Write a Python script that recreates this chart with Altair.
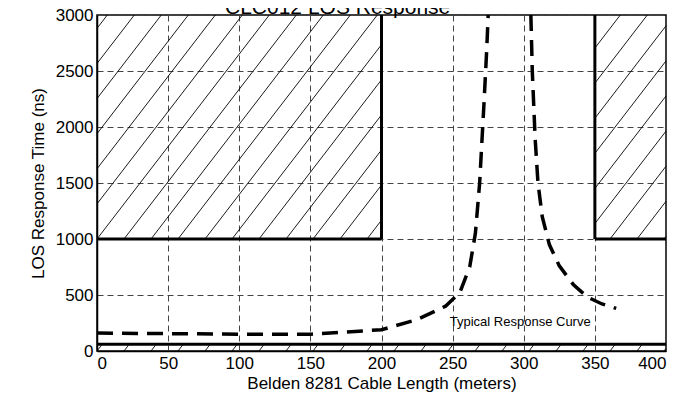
import numpy as np
import pandas as pd
import altair as alt

W, H = 569, 336
XMAX, YMAX = 400, 3000

# typical response curve, two branches
left_x = [0, 50, 100, 150, 200, 225, 245, 255, 262, 266, 269, 272, 274, 275]
left_y = [160, 155, 150, 150, 190, 280, 400, 520, 750, 1050, 1500, 2200, 2700, 3000]
right_x = [305, 306, 308, 310, 313, 318, 325, 335, 345, 355, 365]
right_y = [3000, 2500, 1900, 1500, 1200, 950, 760, 590, 480, 420, 380]

# hatched regions (x0, x1, y0, y1)
regions = [(0, 200, 1000, 3000), (350, 400, 1000, 3000), (0, 400, 0, 60)]
# thick border rules
borders_v = [(200, 1000, 3000), (350, 1000, 3000)]
borders_h = [(0, 200, 1000), (350, 400, 1000), (0, 400, 60)]

sx, sy = W / XMAX, H / YMAX


def hatch(x0, x1, y0, y1, k=1.3, step=27):
    # lines y_px = k*(x_px - c) inside the rectangle, in pixel space
    px0, px1, py0, py1 = x0 * sx, x1 * sx, y0 * sy, y1 * sy
    segs = []
    c = -((py1 - py0) / k) - step * 2
    c = np.floor(c / step) * step
    while c < px1:
        pts = []
        for xx in (px0, px1):
            yy = py0 + k * (xx - c)
            if py0 <= yy <= py1:
                pts.append((xx, yy))
        for yy in (py0, py1):
            xx = c + (yy - py0) / k
            if px0 <= xx <= px1:
                pts.append((xx, yy))
        if len(pts) >= 2:
            pts.sort()
            (a, b), (e, f) = pts[0], pts[-1]
            if e - a > 0.5:
                segs.append(dict(x=a / sx, x2=e / sx, y=b / sy, y2=f / sy))
        c += step
    return segs


hatches = pd.DataFrame([s for r in regions for s in hatch(*r)])
curve = pd.DataFrame(
    [dict(x=a, y=b, branch="L") for a, b in zip(left_x, left_y)]
    + [dict(x=a, y=b, branch="R") for a, b in zip(right_x, right_y)]
)
bv = pd.DataFrame(borders_v, columns=["x", "y", "y2"])
bh = pd.DataFrame(borders_h, columns=["x", "x2", "y"])

xs = alt.Scale(domain=[0, XMAX], nice=False)
ys = alt.Scale(domain=[0, YMAX], nice=False)

base = alt.Chart(curve).mark_line(
    color="black", strokeWidth=3.5, strokeDash=[16, 9], clip=True
).encode(
    x=alt.X("x:Q", scale=xs, title="Belden 8281 Cable Length (meters)",
            axis=alt.Axis(values=list(range(0, 401, 50)), format="d", gridDash=[6, 4],
                          gridColor="#444", gridWidth=1)),
    y=alt.Y("y:Q", scale=ys, title="LOS Response Time (ns)",
            axis=alt.Axis(values=list(range(0, 3001, 500)), format="d", gridDash=[6, 4],
                          gridColor="#444", gridWidth=1)),
    detail="branch:N",
)

hatch_layer = alt.Chart(hatches).mark_rule(color="black", strokeWidth=0.9).encode(
    x=alt.X("x:Q", scale=xs), x2="x2", y=alt.Y("y:Q", scale=ys), y2="y2")
vlayer = alt.Chart(bv).mark_rule(color="black", strokeWidth=3).encode(
    x=alt.X("x:Q", scale=xs), y=alt.Y("y:Q", scale=ys), y2="y2")
hlayer = alt.Chart(bh).mark_rule(color="black", strokeWidth=3).encode(
    x=alt.X("x:Q", scale=xs), x2="x2", y=alt.Y("y:Q", scale=ys))

label = alt.Chart(pd.DataFrame([dict(x=248, y=260, t="Typical Response Curve")])).mark_text(
    align="left", baseline="middle", fontSize=13, font="Liberation Sans"
).encode(x=alt.X("x:Q", scale=xs), y=alt.Y("y:Q", scale=ys), text="t:N")

title = alt.Chart(pd.DataFrame([dict(t="CLC012 LOS Response")])).mark_text(
    align="left", baseline="alphabetic", fontSize=21, font="Liberation Sans"
).encode(x=alt.value(128), y=alt.value(-1), text="t:N")

chart = alt.layer(hatch_layer, base, vlayer, hlayer, label, title).properties(
    width=W, height=H, autosize=alt.AutoSizeParams(type="none"),
    padding={"left": 89, "top": 7, "right": 20, "bottom": 45},
).configure_axis(
    labelFont="Liberation Sans", titleFont="Liberation Sans", labelFontSize=17,
    titleFontSize=17, titleFontWeight="normal", labelColor="black", titleColor="black",
    domainColor="black", domainWidth=1.5, tickColor="black", tickSize=0, labelPadding=4,
).configure_axisX(titlePadding=4).configure_axisY(titlePadding=8).configure_view(
    stroke="black", strokeWidth=1.5)

chart.save("out.html", embed_options={"renderer": "svg", "actions": False})
